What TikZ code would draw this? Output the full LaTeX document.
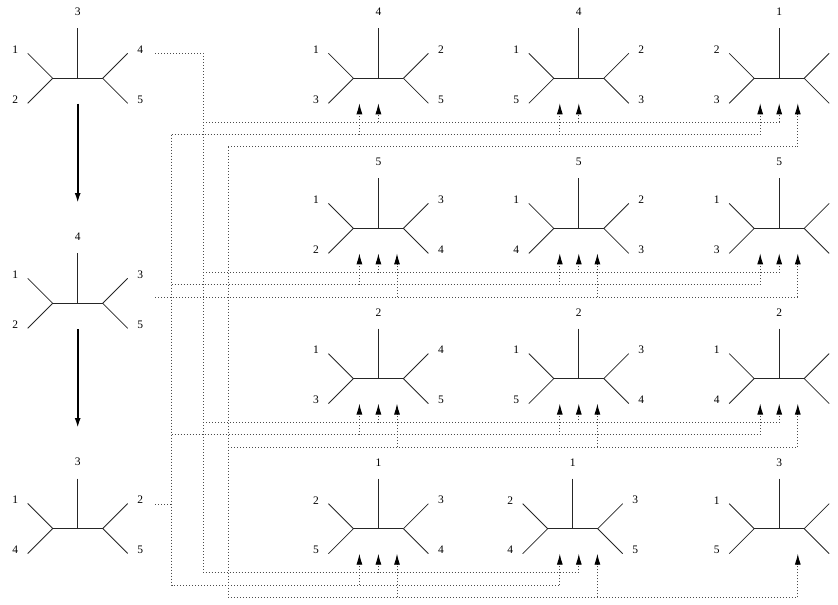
\documentclass[tikz,border=0pt]{standalone}
\usepackage{fontspec}
\setmainfont{Liberation Serif}
\usetikzlibrary{arrows.meta,calc}
\tikzset{
  treeline/.style={line width=0.8pt, black!85, line join=miter},
  lbl/.style={inner sep=0pt, font=\fontsize{11.5}{13}\selectfont},
  dotline/.style={line width=0.9pt, black!70, dash pattern=on 0.9pt off 2.1pt},
  uparrow/.style={dotline, -{Latex[length=11pt,width=6pt,color=black]}},
  bigarrow/.style={line width=1.8pt, -{Latex[length=10pt,width=6pt]}},
}
\newcommand\utree[8]{%
  \coordinate (#1) at (#2,#3);
  \draw[treeline] (#2,#3-50) -- (#1);
  \draw[treeline] (#2-50,#3-25) -- (#2-25,#3) -- (#2-50,#3+25);
  \draw[treeline] (#2-25,#3) -- (#2+25,#3);
  \draw[treeline] (#2+50,#3-25) -- (#2+25,#3) -- (#2+50,#3+25);
  \node[lbl] (#1-t) at (#2,#3-66.3) {#4};
  \node[lbl] (#1-ul) at (#2-62.5,#3-28.5) {#5};
  \node[lbl] (#1-ll) at (#2-62.5,#3+21) {#6};
  \if\relax\detokenize{#7}\relax\else\node[lbl] (#1-ur) at (#2+62.5,#3-28.5) {#7};\fi
  \if\relax\detokenize{#8}\relax\else\node[lbl] (#1-lr) at (#2+62.5,#3+21) {#8};\fi
}
\begin{document}
\begin{tikzpicture}[x=1pt,y=-1pt]
\useasboundingbox (0,0) rectangle (838,605);

% left column trees
\utree{L1}{77.7}{78.3}{3}{1}{2}{4}{5}
\utree{L2}{77.7}{303.3}{4}{1}{2}{3}{5}
\utree{L3}{77.7}{528.5}{3}{1}{4}{2}{5}
\coordinate (k1s) at (77.7,103.5);
\coordinate (k1e) at (77.7,203);
\coordinate (k2s) at (77.7,329);
\coordinate (k2e) at (77.7,428);
\draw[bigarrow] (k1s) -- (k1e);
\draw[bigarrow] (k2s) -- (k2e);

% grid trees
\utree{G11}{378.4}{78.3}{4}{1}{3}{2}{5}
\utree{G12}{578.8}{78.3}{4}{1}{5}{2}{3}
\utree{G13}{779.2}{78.3}{1}{2}{3}{}{}
\utree{G21}{378.4}{228.4}{5}{1}{2}{3}{4}
\utree{G22}{578.8}{228.4}{5}{1}{4}{2}{3}
\utree{G23}{779.2}{228.4}{5}{1}{3}{}{}
\utree{G31}{378.4}{378.6}{2}{1}{3}{4}{5}
\utree{G32}{578.8}{378.6}{2}{1}{5}{3}{4}
\utree{G33}{779.2}{378.6}{2}{1}{4}{}{}
\utree{G41}{378.4}{528.7}{1}{2}{5}{3}{4}
\utree{G42}{572.7}{528.7}{1}{2}{4}{3}{5}
\utree{G43}{779.2}{528.7}{3}{1}{5}{}{}

% routing coordinates
\coordinate (V1) at (203,0);
\coordinate (V2) at (228.3,0);
\coordinate (V3) at (171.7,0);
\foreach \r/\ry in {1/78.3,2/228.4,3/378.6,4/528.7}{
  \coordinate (T\r) at (0,\ry+44);
  \coordinate (M\r) at (0,\ry+56.3);
  \coordinate (B\r) at (0,\ry+68.6);
  \foreach \c/\cx in {1/378.4,2/578.8,3/779.2}{
    \coordinate (a\r\c L) at (\cx-19,\ry+25);
    \coordinate (a\r\c M) at (\cx,\ry+25);
    \coordinate (a\r\c R) at (\cx+18.6,\ry+25);
  }
}
\coordinate (S1) at (155,53.3);
\coordinate (S2) at (155,297);
\coordinate (S3) at (155,504);

% tree 1 connections
\draw[dotline] (S1) -| (V1 |- T4) -- (a42M |- T4);
\foreach \r in {1,2,3}{ \draw[dotline] (V1 |- T\r) -- (a\r3M |- T\r); }
% tree 3 connections
\draw[dotline] (S3) -- (V3 |- S3);
\draw[dotline] (V3 |- M1) -- (V3 |- M4) -- (a42L |- M4);
\foreach \r in {1,2,3}{ \draw[dotline] (V3 |- M\r) -- (a\r3L |- M\r); }
% tree 2 connections
\draw[dotline] (S2) -- (a23R |- B2);
\draw[dotline] (V2 |- B1) -- (V2 |- B4) -- (a43R |- B4);
\draw[dotline] (V2 |- B1) -- (a13R |- B1);
\draw[dotline] (V2 |- B3) -- (a33R |- B3);

% arrows
\foreach \r/\c/\k/\ln in {
  1/1/L/M,1/1/M/T,1/2/L/M,1/2/M/T,1/3/L/M,1/3/M/T,1/3/R/B,
  2/1/L/M,2/1/M/T,2/1/R/B,2/2/L/M,2/2/M/T,2/2/R/B,2/3/L/M,2/3/M/T,2/3/R/B,
  3/1/L/M,3/1/M/T,3/1/R/B,3/2/L/M,3/2/M/T,3/2/R/B,3/3/L/M,3/3/M/T,3/3/R/B,
  4/1/L/M,4/1/M/T,4/1/R/B,4/2/L/M,4/2/M/T,4/2/R/B,4/3/R/B}{
  \draw[uparrow] (a\r\c\k |- \ln\r) -- (a\r\c\k);
}
\end{tikzpicture}
\end{document}
